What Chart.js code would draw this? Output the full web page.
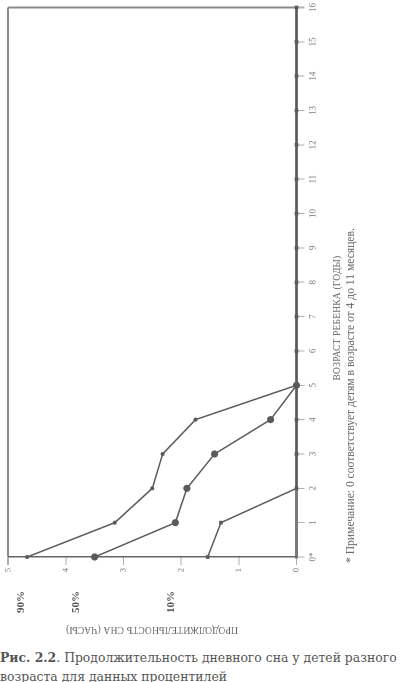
<!DOCTYPE html>
<html lang="ru">
<head>
<meta charset="utf-8">
<title>Продолжительность дневного сна</title>
<script src="https://cdn.jsdelivr.net/npm/chart.js@4.4.1/dist/chart.umd.min.js"></script>
<style>
  html, body { margin: 0; padding: 0; background: #fff; }
  body { width: 400px; height: 682px; position: relative; overflow: hidden; }
  /* chart is laid out upright (640x400) and turned 90deg counter-clockwise */
  #rot {
    position: absolute; left: 0; top: 0;
    width: 640px; height: 400px;
    transform-origin: 0 0;
    transform: translate(0, 640px) rotate(-90deg);
  }
  #rot canvas { position: absolute; left: 0; top: 0; }
  .lbl { position: absolute; white-space: nowrap; color: #666;
         font-family: "Liberation Serif", "Times New Roman", serif; transform: translate(-50%, -50%); }
  .pct { font-weight: bold; font-size: 11px; color: #555; }
  #xtitle { font-size: 9.5px; letter-spacing: 0.2px; }
  #ytitle { font-size: 9.5px; letter-spacing: 0.2px; transform: translate(-50%, -50%) rotate(-90deg); }
  #note { font-size: 11.6px; transform: translate(0, -50%); }
  #caption {
    position: absolute; left: 0; top: 648px; width: 400px;
    font-family: "DejaVu Serif", serif; font-size: 12.4px; line-height: 19px;
    color: #555; white-space: nowrap;
  }
  #caption b { color: #555; }
</style>
</head>
<body>
<div id="rot">
  <canvas id="chart" width="640" height="400"></canvas>
  <div class="lbl" id="xtitle" style="left:322px; top:337px;">ВОЗРАСТ РЕБЕНКА (ГОДЫ)</div>
  <div class="lbl" id="note" style="left:77px; top:350px;">* Примечание: 0 соответствует детям в возрасте от 4 до 11 месяцев.</div>
  <div class="lbl" id="ytitle" style="left:10px; top:152px;">ПРОДОЛЖИТЕЛЬНОСТЬ СНА (ЧАСЫ)</div>
  <div class="lbl pct" style="left:38px; top:20px;">90%</div>
  <div class="lbl pct" style="left:38px; top:75px;">50%</div>
  <div class="lbl pct" style="left:38px; top:170px;">10%</div>
</div>
<div id="caption"><b>Рис. 2.2</b>. Продолжительность дневного сна у детей разного<br>возраста для данных процентилей</div>

<script>
// ==============================
// DATA
// ==============================
const ageLabels = ["0*", "1", "2", "3", "4", "5", "6", "7", "8", "9", "10", "11", "12", "13", "14", "15", "16"];
const hoursTicks = [0, 1, 2, 3, 4, 5];

// часы дневного сна по возрасту (0*..)
const p90 = [4.67, 3.15, 2.5, 2.32, 1.75, 0];
const p50 = [3.5, 2.1, 1.9, 1.42, 0.45, 0];
const p10 = [1.54, 1.31, 0, 0, 0, 0, 0, 0, 0, 0, 0, 0, 0, 0, 0, 0, 0];

const INK = "#5a5a5a";
const SERIF = "'Liberation Serif', 'Times New Roman', serif";

// ==============================
// CHART
// ==============================
function makeSeries(label, values, style, radius) {
    return {
        label: label,
        data: values,
        borderColor: INK,
        backgroundColor: INK,
        borderWidth: 1.5,
        pointStyle: style,
        pointRadius: radius,
        pointBorderWidth: 0,
        tension: 0,
        clip: false
    };
}

const ctx = document.getElementById("chart");
new Chart(ctx, {
    type: "line",
    data: {
        labels: ageLabels,
        datasets: [
            makeSeries("10%", p10, "rect", 2.6),
            makeSeries("90%", p90, "circle", 2),
            makeSeries("50%", p50, "circle", 3.6)
        ]
    },
    options: {
        responsive: false,
        animation: false,
        devicePixelRatio: 2,
        layout: { padding: { left: 0, right: 3, top: 5, bottom: 0 } },
        plugins: { legend: { display: false }, tooltip: { enabled: false } },
        scales: {
            x: {
                type: "category",
                offset: false,
                afterFit: (scale) => { scale.height = 103.5; },
                grid: {
                    color: (c) => (c.index === ageLabels.length - 1 ? "#8a8a8a" : "rgba(0,0,0,0)"),
                    lineWidth: (c) => (c.index === ageLabels.length - 1 ? 2 : 1),
                    tickColor: "#b0b0b0",
                    tickLength: 8
                },
                border: { color: "#7a7a7a", width: 3 },
                ticks: {
                    color: "#777",
                    padding: 3,
                    maxRotation: 0,
                    minRotation: 0,
                    autoSkip: false,
                    font: { family: SERIF, size: 9 }
                }
            },
            y: {
                type: "linear",
                min: 0,
                max: 5,
                afterFit: (scale) => { scale.width = 83; },
                afterBuildTicks: (scale) => { scale.ticks = hoursTicks.map(v => ({ value: v })); },
                grid: {
                    color: (c) => (c.tick && c.tick.value === 5 ? "#8a8a8a" : "rgba(0,0,0,0)"),
                    lineWidth: (c) => (c.tick && c.tick.value === 5 ? 2 : 1),
                    tickColor: "#b0b0b0",
                    tickLength: 8
                },
                border: { color: "#666", width: 1.5 },
                ticks: {
                    color: "#777",
                    padding: 3,
                    font: { family: SERIF, size: 8.5 }
                }
            }
        }
    }
});
</script>
</body>
</html>
